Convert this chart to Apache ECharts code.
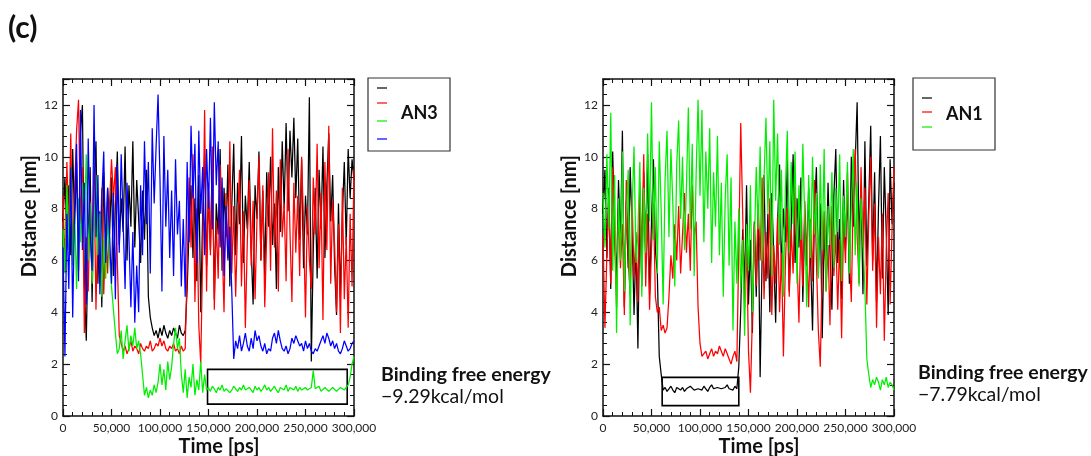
<!DOCTYPE html>
<html>
<head>
<meta charset="utf-8">
<script src="https://cdn.jsdelivr.net/npm/echarts@6/dist/echarts.min.js"></script>
<style>
html,body{margin:0;padding:0;background:#fff;}
#chart{width:1091px;height:456px;}
</style>
</head>
<body>
<div id="chart"></div>
<script>
// ---- data (distance in nm, sampled every 2000 ps) ----
const timeStepPs = 2000;
const xTicks = [0, 50000, 100000, 150000, 200000, 250000, 300000];
const yTicks = [0, 2, 4, 6, 8, 10, 12];

const an3Black = [7.5, 9.2, 6.8,
 8.9, 6.2, 10.3, 7.4, 9.8, 5.6, 10.9, 12.0, 5.2, 2.9,
 6.8, 9.6, 4.4, 8.7, 10.6, 5.1, 7.9, 4.2, 9.4, 6.3, 8.8, 7.0,
 9.2, 5.4, 8.1, 10.2, 6.6, 8.4, 7.1, 10.4, 6.0, 8.9, 7.3, 10.6, 6.5, 9.1, 7.6, 5.9, 8.7, 6.8, 9.5, 4.6,
 3.8, 3.4, 3.1,
 3.3, 3.0, 3.4, 3.1, 3.5, 3.2, 3.0, 3.3, 3.1, 3.4, 3.2, 3.0, 3.5, 3.2, 3.1, 3.3,
 4.9, 7.2, 8.9,
 6.1, 8.4, 5.2, 9.3, 4.0, 7.8, 10.1, 5.8, 8.6, 6.4,
 9.9, 4.5, 8.2, 7.0, 10.3, 5.6, 8.8, 6.9, 9.7, 5.0,
 8.1, 10.5, 6.2, 9.0, 7.4, 10.8, 5.9, 8.5, 7.2, 9.8,
 6.5, 4.3, 8.9, 7.6, 10.2, 6.0, 8.7, 5.4, 9.4, 7.3,
 10.0, 6.6, 8.2, 4.9, 9.6, 7.1, 10.6, 8.0, 11.3, 7.9,
 11.0, 9.2, 11.5, 8.4, 10.7, 6.8, 9.9, 5.7, 8.5, 7.0,
 12.3, 2.1, 6.4, 8.8, 5.3, 9.5, 7.2, 10.4, 6.1, 8.9,
 10.9, 7.5, 9.3, 5.8, 3.9, 8.2, 4.6, 7.7, 9.8, 6.6,
 10.3, 8.4, 9.9, 9.1];

const an3Red = [8.5, 5.6, 9.8, 7.0, 10.9, 6.2, 8.7, 11.0, 12.2, 7.4, 9.6,
 3.2, 6.9, 4.8, 8.3, 5.2, 9.4, 4.1, 7.6, 6.0, 8.8, 4.7, 7.1, 5.5, 8.2,
 9.9, 8.4, 9.6, 6.0,
 3.1,
 2.8, 2.5, 2.7, 2.4, 2.6, 2.9, 2.5, 2.7, 2.6, 2.4,
 2.8, 2.6, 2.5, 2.7, 2.6, 2.9, 2.5, 2.6, 2.8, 2.7,
 3.0, 2.7, 2.9, 2.6, 2.5, 2.7, 2.6, 2.8, 2.5, 2.6,
 2.4, 2.7, 2.5, 2.6,
 5.8, 9.2, 6.5, 10.1, 4.4, 8.0, 3.5, 2.0,
 6.3, 11.8, 4.8, 9.0, 6.2, 10.4, 4.1, 7.5, 5.3, 9.7,
 6.8, 4.0, 8.6, 6.1, 10.6, 5.5, 8.1, 4.6, 7.3, 9.5,
 5.0, 7.9, 3.4, 6.7, 9.1, 5.8, 8.3, 4.5, 7.6, 10.0,
 6.0, 8.9, 4.2, 7.0, 9.4, 5.6, 11.1, 6.5, 8.7, 4.8,
 9.9, 6.9, 8.2, 5.2, 10.3, 7.1, 4.4, 9.0, 6.3, 8.5,
 5.4, 10.0, 7.4, 3.8, 8.1, 6.0, 4.9, 9.2, 7.0, 10.5,
 5.7, 8.6, 3.7, 9.8, 6.4, 11.2, 5.1, 8.3, 6.6, 4.0,
 7.4, 3.2, 8.8, 4.5, 6.9, 3.4, 7.8, 5.0, 9.5];

const an3Green = [7.2, 5.5, 8.9, 6.4, 9.6, 5.8, 7.9, 4.9, 8.4, 6.7,
 9.0, 7.5, 10.1, 6.0, 8.2, 5.1, 7.4, 9.3, 6.2, 7.8,
 4.6, 6.9, 5.3, 7.6, 6.1,
 5.0, 4.1, 3.2, 2.4,
 2.6, 3.3, 2.2, 2.9, 3.5, 2.5, 3.1, 2.7, 3.4, 2.6, 2.9, 2.4,
 1.6, 0.8, 1.1, 0.7,
 1.0, 0.8, 1.2, 0.9, 1.3,
 2.0, 1.2, 1.8, 1.0, 2.1, 1.4,
 1.9, 2.8, 3.4, 2.6, 3.0,
 1.6, 0.9, 1.8, 0.7, 1.5, 1.1, 2.0, 0.8, 1.4, 1.0, 2.1, 0.9, 1.6,
 1.0, 1.1, 0.95, 1.15, 1.05, 0.9, 1.1, 1.0, 1.2, 0.95,
 1.05, 1.1, 0.9, 1.0, 1.15, 1.05, 0.95, 1.1, 1.0, 1.2,
 1.0, 0.95, 1.1, 1.05, 0.9, 1.15, 1.0, 1.1, 0.95, 1.05,
 1.2, 1.0, 1.1, 0.95, 1.05, 1.15, 1.0, 0.9, 1.1, 1.05,
 1.0, 1.2, 0.95, 1.1, 1.05, 1.0, 1.15, 0.95, 1.1, 1.0,
 1.05, 1.1, 1.0, 0.95, 1.1, 1.75, 1.05, 1.0, 1.15, 0.95,
 1.0, 1.1, 1.05, 0.95, 1.0, 1.1, 1.05, 0.95, 1.0, 1.1,
 1.05, 1.0, 1.1,
 1.2, 1.5, 2.0, 2.3];

const an3Blue = [6.5, 2.3, 7.8, 4.9, 9.6, 3.8, 8.1, 10.5, 5.2, 11.8,
 6.4, 9.0, 4.3, 10.7, 7.1, 5.6, 12.0, 6.9, 9.3, 4.7,
 8.4, 10.2, 5.9, 8.8, 7.0,
 5.1, 8.6, 4.5, 9.7, 6.3, 10.1, 7.5, 4.9, 9.0, 6.8,
 4.2, 7.1, 3.6, 5.8, 4.0,
 8.9, 6.2, 10.6, 7.4, 9.8, 5.5, 11.1, 8.2, 10.4, 12.4,
 9.1, 4.8, 10.8, 7.3, 9.5, 6.1, 8.7, 5.4, 9.9, 7.0, 8.3, 5.0, 7.6, 4.6,
 9.8, 6.7, 11.2, 8.4, 10.5, 5.9, 11.0, 7.8, 9.6, 6.2, 10.3, 8.0, 11.5, 7.2, 12.1, 8.9, 10.6, 6.5, 9.2,
 5.4, 8.1, 6.0, 7.3, 4.8,
 2.2,
 2.9, 2.6, 3.1, 2.5, 2.8, 3.2, 2.7, 2.5, 3.0, 2.6,
 3.3, 2.9, 3.1, 2.7, 2.5, 2.8, 2.4, 2.6, 2.5, 3.0,
 3.2, 2.8, 3.3, 2.9, 2.6, 2.5, 2.7, 2.4, 2.6, 3.0,
 2.8, 3.1, 2.9, 2.7, 2.8, 2.5, 2.9, 2.6, 2.8, 2.5,
 2.4, 2.6, 2.5, 2.7, 2.9, 3.1, 2.8, 3.2, 3.0, 2.7,
 2.9, 2.6, 2.8, 2.5, 2.4, 2.6, 2.9, 2.7, 2.5, 2.6,
 2.8, 2.9];

const an1Black = [7.8, 9.5, 6.1, 8.8, 4.9, 10.2, 7.0, 5.3, 9.1, 6.6,
 11.0, 4.2, 8.3, 5.7, 9.6, 7.2, 3.9, 6.8, 2.6, 8.0,
 5.0, 9.4, 6.3, 10.1, 4.7, 7.5, 9.9, 6.4,
 5.5, 2.3, 1.6,
 1.0, 1.1, 0.95, 1.05, 1.15, 1.0, 0.9, 1.1, 1.05, 1.0,
 1.1, 0.95, 1.05, 1.0, 1.15, 1.1, 1.0, 0.95, 1.05, 1.1,
 1.0, 1.15, 1.05, 0.95, 1.1, 1.2, 1.05, 1.0, 1.1, 1.15,
 1.05, 1.0, 1.1, 1.2, 1.05, 1.1, 1.0, 1.15, 1.05,
 1.9, 4.1, 7.2,
 5.0, 8.9, 4.3, 6.8, 3.2, 7.5, 4.6, 8.1, 1.5, 6.0,
 9.3, 5.2, 7.8, 4.0, 8.6, 6.2, 3.6, 7.4, 9.7, 5.5,
 8.0, 6.7, 9.9, 4.8, 7.3, 10.1, 5.9, 8.4, 6.5, 9.2,
 4.4, 7.7, 5.8, 8.8, 6.1, 3.3, 7.9, 9.6, 5.4, 8.2,
 3.0, 7.0, 5.6, 9.0, 6.3, 4.1, 8.5, 10.3, 5.9, 7.6,
 4.5, 9.1, 6.4, 8.7, 5.1, 10.0, 7.3, 9.8, 12.1, 6.6,
 8.9, 4.7, 10.6, 5.8, 8.3, 11.2, 6.0, 9.4, 4.4, 8.0,
 10.8, 5.3, 9.6, 7.1, 3.9, 9.9, 7.4, 9.0];

const an1Red = [7.0, 3.4, 6.3, 8.5, 5.1, 9.6, 6.8, 4.2, 8.0, 5.7,
 7.4, 3.9, 9.1, 6.0, 4.7, 8.4, 5.3, 7.1, 4.4, 9.0,
 6.2, 10.1, 5.0, 7.8, 4.1, 6.5, 8.2, 4.6,
 4.0, 4.2,
 3.3, 3.5, 3.2, 3.4,
 4.6, 6.2, 5.3, 7.4, 6.0, 8.1, 5.5, 7.0, 8.6, 6.3, 7.8, 5.6, 8.9, 6.9, 7.5,
 4.2, 2.8, 2.3,
 2.3, 2.5, 2.2, 2.4, 2.6, 2.3, 2.5, 2.4, 2.7, 2.5, 2.3, 2.6, 2.4, 2.2, 2.0, 2.3, 2.5, 2.1,
 6.5, 11.3, 7.8,
 4.2, 6.6, 2.5, 0.9, 3.8, 7.4, 5.0, 8.2,
 6.0, 9.2, 4.5, 7.1, 5.3, 8.4, 3.9, 6.6, 5.1, 7.7,
 4.0, 6.3, 2.3, 5.8, 8.0, 4.6, 7.2, 5.5, 9.0, 6.1,
 3.6, 7.4, 5.0, 8.3, 6.4, 4.2, 7.6, 5.2, 9.1, 6.0,
 3.3, 1.9, 5.7, 7.9, 4.8, 6.6, 3.5, 8.1, 5.4, 7.0,
 4.1, 6.8, 3.0, 7.5, 5.9, 9.4, 6.2, 4.4, 8.5, 10.3,
 7.0, 5.1, 9.6, 6.5, 8.8, 4.3, 7.7, 10.0, 5.6, 8.2,
 3.4, 6.9, 4.7, 7.8, 2.9, 6.4, 8.6, 4.3, 7.2, 9.6];

const an1Green = [8.6, 6.5, 10.1, 7.2, 11.7, 5.6, 9.3, 3.2, 8.4, 6.0,
 10.2, 4.8, 7.7, 9.5, 3.5, 8.0, 10.4, 5.9, 7.1, 9.8,
 4.6, 8.8, 6.3, 10.9, 7.5,
 12.1, 6.8, 9.6, 5.5, 10.6, 7.9, 4.3, 9.1, 11.0, 6.9,
 10.3, 8.2, 5.0, 9.7, 11.4, 7.6, 10.0, 6.4, 8.8, 11.9,
 7.2, 10.5, 5.4, 9.3, 12.2, 8.5, 11.8, 6.7, 10.2, 8.0,
 11.1, 5.9, 9.4, 7.3, 10.8, 6.2, 9.0, 4.6, 8.4, 10.1,
 5.8, 9.2, 3.3, 7.5, 5.1,
 8.0, 4.9, 6.8, 3.1, 7.4, 5.6, 8.9, 4.0, 6.5, 9.6,
 7.2, 10.4, 6.0, 9.1, 11.5, 7.8, 10.6, 5.4, 12.2, 8.3,
 10.9, 6.6, 9.5, 4.6, 8.7, 11.0, 6.3, 9.8, 7.4, 10.2,
 5.1, 8.9, 6.8, 10.5, 7.6, 4.2, 9.3, 6.1, 10.0, 7.0,
 8.6, 5.3, 9.7, 6.4, 10.3, 4.8, 8.1, 6.6, 9.4, 5.7,
 8.8, 7.1, 10.1, 5.2, 8.5, 6.9, 9.8, 5.5, 8.0, 10.3,
 6.2, 9.0, 5.0, 8.4, 6.8, 4.9,
 2.2, 1.6,
 1.1, 1.4, 1.2, 1.5, 1.3, 1.0, 1.4, 1.2, 1.5, 1.1, 1.3, 1.2, 1.0];

// highlighted boxes [x0, y0, x1, y1] in data units
const an3Box = [149000, 0.46, 293000, 1.8];
const an1Box = [61000, 0.40, 140000, 1.49];

const panelLabels = ['AN3', 'AN1'];
const energyLabels = ['\u22129.29kcal/mol', '\u22127.79kcal/mol'];

// ---- build ----
const toPairs = arr => arr.map((v, i) => [i * timeStepPs, v]);
const FONT = 'Lato, "Open Sans", sans-serif';
const fmtThousands = v => v === 0 ? '0' : String(v).replace(/\B(?=(\d{3})+(?!\d))/g, ',');

const grids = [
  {left: 63, top: 79, width: 291, height: 337},
  {left: 603, top: 79, width: 291, height: 337}
];

function xAx(gi, pos) {
  const main = pos === 'bottom';
  return {
    type: 'value', gridIndex: gi, position: pos, min: 0, max: 300000, interval: 50000,
    axisLine: {show: true, onZero: false, lineStyle: {color: '#111', width: 1.5}},
    axisTick: {show: true, inside: true, length: 7, lineStyle: {color: '#111', width: 1.2}},
    minorTick: {show: true, splitNumber: 5, length: 4, lineStyle: {color: '#111', width: 1}},
    splitLine: {show: false},
    axisLabel: {show: main, color: '#222', fontSize: 12, fontFamily: FONT, margin: 6,
      formatter: fmtThousands}
  };
}
function yAx(gi, pos) {
  const main = pos === 'left';
  return {
    type: 'value', gridIndex: gi, position: pos, min: 0, max: 13, interval: 2,
    axisLine: {show: true, onZero: false, lineStyle: {color: '#111', width: 1.5}},
    axisTick: {show: true, inside: true, length: 7, lineStyle: {color: '#111', width: 1.2}},
    minorTick: {show: true, splitNumber: 5, length: 4, lineStyle: {color: '#111', width: 1}},
    splitLine: {show: false},
    axisLabel: {show: main, color: '#222', fontSize: 12, fontFamily: FONT, margin: 5,
      showMaxLabel: false,
      formatter: v => (yTicks.indexOf(v) >= 0 ? String(v) : '')}
  };
}

function line(name, data, color, xi, yi, box) {
  const s = {
    name, type: 'line', data: toPairs(data), xAxisIndex: xi, yAxisIndex: yi,
    showSymbol: false, symbol: 'none', silent: true, animation: false,
    lineStyle: {color, width: 1.25}, itemStyle: {color}
  };
  if (box) {
    s.markArea = {
      silent: true,
      itemStyle: {color: 'rgba(0,0,0,0)', borderColor: '#000', borderWidth: 1.6},
      label: {show: false},
      data: [[{coord: [box[0], box[1]]}, {coord: [box[2], box[3]]}]]
    };
  }
  return s;
}

const series = [
  line('AN3 black', an3Black, '#000000', 0, 0),
  line('AN3 red', an3Red, '#ff0000', 0, 0),
  line('AN3 green', an3Green, '#00ee00', 0, 0, an3Box),
  line('AN3 blue', an3Blue, '#0000ff', 0, 0),
  line('AN1 black', an1Black, '#000000', 2, 2, an1Box),
  line('AN1 red', an1Red, '#ff0000', 2, 2),
  line('AN1 green', an1Green, '#00ee00', 2, 2)
];

function legendBox(x, y, w, h, colors, rowYs, label, labelY) {
  const els = [{type: 'rect', shape: {x, y, width: w, height: h},
    style: {fill: '#fff', stroke: '#333', lineWidth: 1.2}}];
  colors.forEach((c, k) => {
    els.push({type: 'line', shape: {x1: x + 9, y1: rowYs[k], x2: x + 19, y2: rowYs[k]},
      style: {stroke: c, lineWidth: 1.2}});
  });
  els.push({type: 'text', x: x + 33, y: labelY,
    style: {text: label, fontFamily: FONT, fontWeight: 'bold', fontSize: 18, fill: '#111',
      textVerticalAlign: 'middle', verticalAlign: 'middle'}});
  return els;
}

function txt(x, y, text, size, bold) {
  return {type: 'text', x, y,
    style: {text, fontFamily: FONT, fontSize: size, fontWeight: bold ? 'bold' : 'normal', fill: '#111',
      verticalAlign: 'middle', textVerticalAlign: 'middle'}};
}
function ctxt(x, y, text, size, rot) {
  return {type: 'text', x, y, rotation: rot || 0,
    style: {text, fontFamily: FONT, fontSize: size, fontWeight: 'bold', fill: '#111',
      align: 'center', textAlign: 'center', verticalAlign: 'middle', textVerticalAlign: 'middle'}};
}

const graphics = [
  txt(8, 28, '(c)', 30, true),
  ctxt(30, 216, 'Distance [nm]', 20, Math.PI / 2),
  ctxt(570, 216, 'Distance [nm]', 20, Math.PI / 2),
  ctxt(219, 447, 'Time [ps]', 20),
  ctxt(759, 447, 'Time [ps]', 20),
  txt(381, 375, 'Binding free energy', 19.5, true),
  txt(381, 397, energyLabels[0], 19.5, false),
  txt(918, 373, 'Binding free energy', 19.5, true),
  txt(918, 395, energyLabels[1], 19.5, false)
].concat(
  legendBox(368, 78, 82, 73, ['#000000', '#ff0000', '#00ee00', '#0000ff'], [88, 103, 121, 139], panelLabels[0], 113),
  legendBox(913, 78, 82, 72, ['#000000', '#ff0000', '#00ee00'], [98, 112, 127], panelLabels[1], 114)
);

const chart = echarts.init(document.getElementById('chart'), null, {renderer: 'canvas'});
chart.setOption({
  animation: false,
  backgroundColor: '#fff',
  grid: grids,
  xAxis: [xAx(0, 'bottom'), xAx(0, 'top'), xAx(1, 'bottom'), xAx(1, 'top')],
  yAxis: [yAx(0, 'left'), yAx(0, 'right'), yAx(1, 'left'), yAx(1, 'right')],
  series,
  graphic: graphics
});
</script>
</body>
</html>
